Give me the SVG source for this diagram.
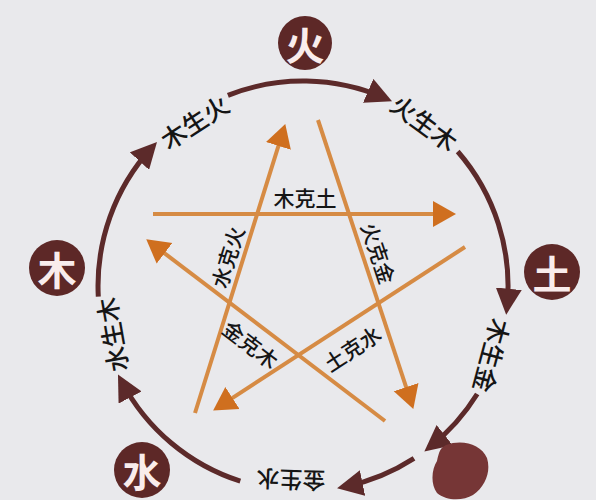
<svg xmlns="http://www.w3.org/2000/svg" width="596" height="500" viewBox="0 0 596 500">
<defs>
<style>
.arc{fill:none;stroke:#5c2a2a;stroke-width:5;marker-end:url(#ah)}
.ke{fill:none;stroke:#d68b44;stroke-width:4;marker-end:url(#oh)}
.node circle{fill:#5d2827}
.node text{fill:#f9ecec;font-family:"Noto Sans CJK SC","Noto Sans",sans-serif;font-size:39px;font-weight:700;text-anchor:middle;dominant-baseline:central}
.lbl{fill:#151515;font-family:"Noto Sans CJK SC","Noto Sans",sans-serif;font-size:25px;font-weight:500;text-anchor:middle;dominant-baseline:central}
.klbl{fill:#151515;font-family:"Noto Sans CJK SC","Noto Sans",sans-serif;font-size:21px;font-weight:500;text-anchor:middle;dominant-baseline:central}
</style>
<marker id="ah" markerUnits="userSpaceOnUse" markerWidth="26" markerHeight="26" viewBox="0 0 26 26" refX="18" refY="13" orient="auto"><path d="M0,0 L26,13 L0,26 z" fill="#5c2a2a"/></marker>
<marker id="oh" markerUnits="userSpaceOnUse" markerWidth="24" markerHeight="28" viewBox="0 0 24 28" refX="14" refY="14" orient="auto"><path d="M0,1 L23,14 L0,27 z" fill="#cf6f1f"/></marker>
</defs>
<rect width="596" height="500" fill="#e9e9ec"/>
<g id="connectors">
<path class="arc" d="M227.9,95.3 A205,205 0 0 1 384.7,98"/>
<path class="arc" d="M457.7,151.5 A205,205 0 0 1 507,306.7"/>
<path class="arc" d="M477.2,394 A205,205 0 0 1 430.6,446.4"/>
<path class="arc" d="M414,458.3 A205,205 0 0 1 344.9,486.7"/>
<path class="arc" d="M240.3,481.2 A205,205 0 0 1 121.7,381.6"/>
<path class="arc" d="M98.3,296.7 A205,205 0 0 1 151.6,147.8"/>
<path class="ke" d="M153,214 L447,214"/>
<path class="ke" d="M195,413 L282.6,132.6"/>
<path class="ke" d="M318,120 L410.5,400.4"/>
<path class="ke" d="M385,421 L153.4,244.8"/>
<path class="ke" d="M465,247 L220.7,405.6"/>
</g>
<g id="labels">
<text class="lbl" transform="translate(194,121) rotate(-33)">木生火</text>
<text class="lbl" transform="translate(425,122) rotate(36)">火生木</text>
<text class="lbl" transform="translate(493,356) rotate(105)">木生金</text>
<text class="lbl" transform="translate(291,481) rotate(182)" style="font-size:23px">金生水</text>
<text class="lbl" transform="translate(111,335) rotate(-100)">水生木</text>
<text class="klbl" transform="translate(305,197)">木克土</text>
<text class="klbl" transform="translate(227,257) rotate(-72.6)">水克火</text>
<text class="klbl" transform="translate(379,253) rotate(71.7)">火克金</text>
<text class="klbl" transform="translate(251,344) rotate(37.3)">金克木</text>
<text class="klbl" transform="translate(352,348) rotate(-33.1)">土克水</text>
</g>
<g id="fire" class="node"><circle cx="305" cy="43" r="27"/><text x="305" y="43">火</text></g>
<g id="wood" class="node"><circle cx="57" cy="268" r="28"/><text x="57" y="268">木</text></g>
<g id="earth" class="node"><circle cx="552" cy="272" r="28"/><text x="552" y="272">土</text></g>
<g id="water" class="node"><circle cx="142" cy="470" r="28"/><text x="142" y="470">水</text></g>
<g id="blob"><path d="M446,445 C462,439 481,444 487,458 C491,471 486,486 473,495 C463,501 446,501 437,493 C430,483 432,469 437,461 C439,452 440,448 446,445 Z" fill="#763636"/></g>
</svg>
